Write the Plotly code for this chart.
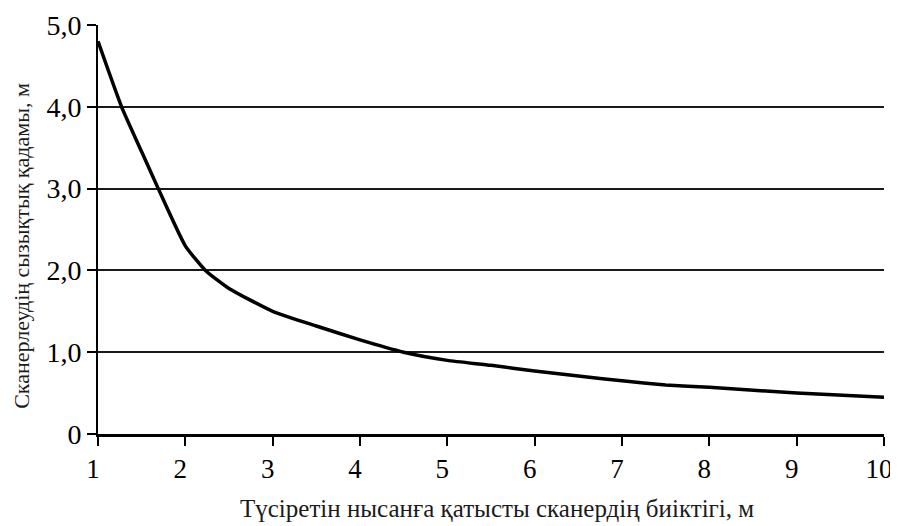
import plotly.graph_objects as go

heights = [1, 1.27, 1.5, 1.69, 2, 2.23, 2.5, 3, 3.5, 4, 4.5, 5, 5.5, 6, 6.5, 7, 7.5, 8, 9, 10]
steps = [4.8, 4.0, 3.45, 3.0, 2.3, 2.0, 1.78, 1.5, 1.32, 1.15, 1.0, 0.9, 0.84, 0.77, 0.71, 0.65, 0.6, 0.57, 0.5, 0.45]

x_ticks = [1, 2, 3, 4, 5, 6, 7, 8, 9, 10]
y_ticks = [0, 1, 2, 3, 4, 5]
y_tick_labels = ["0", "1,0", "2,0", "3,0", "4,0", "5,0"]
grid_levels = [1, 2, 3, 4]

x_title = "Түсіретін нысанға қатысты сканердің биіктігі, м"
y_title = "Сканерлеудің сызықтық қадамы, м"

fig = go.Figure()
fig.add_trace(go.Scatter(
    x=heights, y=steps, mode="lines",
    line=dict(color="black", width=3.5, shape="spline", smoothing=0.5),
    showlegend=False, hoverinfo="x+y",
))

font_family = "Liberation Serif, Times New Roman, serif"

fig.update_layout(
    width=890, height=518,
    margin=dict(l=90, r=14, t=17, b=92, autoexpand=False),
    paper_bgcolor="white", plot_bgcolor="white",
    font=dict(family=font_family, color="black"),
    xaxis=dict(
        range=[1, 10], tickvals=x_ticks, ticktext=[str(v) for v in x_ticks],
        showgrid=False, zeroline=False, automargin=False,
        showline=True, linecolor="black", linewidth=2.5,
        ticks="outside", ticklen=9, tickwidth=2, tickcolor="black",
        tickfont=dict(size=27, family=font_family),
        ticklabeloverflow="allow", ticklabelshift=-5,
    ),
    yaxis=dict(
        range=[0, 5], tickvals=y_ticks, ticktext=y_tick_labels,
        showgrid=False, zeroline=False, automargin=False,
        showline=True, linecolor="black", linewidth=2,
        ticks="outside", ticklen=9, tickwidth=2, tickcolor="black",
        tickfont=dict(size=28, family=font_family),
        ticklabeloverflow="allow",
        minor=dict(tickvals=grid_levels, showgrid=True, gridcolor="#1a1a1a", gridwidth=2, ticks=""),
    ),
    annotations=[
        dict(text=x_title, xref="paper", yref="paper", x=0.508, y=-0.181,
             xanchor="center", yanchor="middle", showarrow=False,
             font=dict(size=25, family=font_family, color="#1a1a1a")),
        dict(text=y_title, xref="paper", yref="paper", x=-0.0967, y=0.46,
             xanchor="center", yanchor="middle", showarrow=False, textangle=-90,
             font=dict(size=22, family=font_family, color="#1a1a1a")),
    ],
)

fig.write_html("out.html")
